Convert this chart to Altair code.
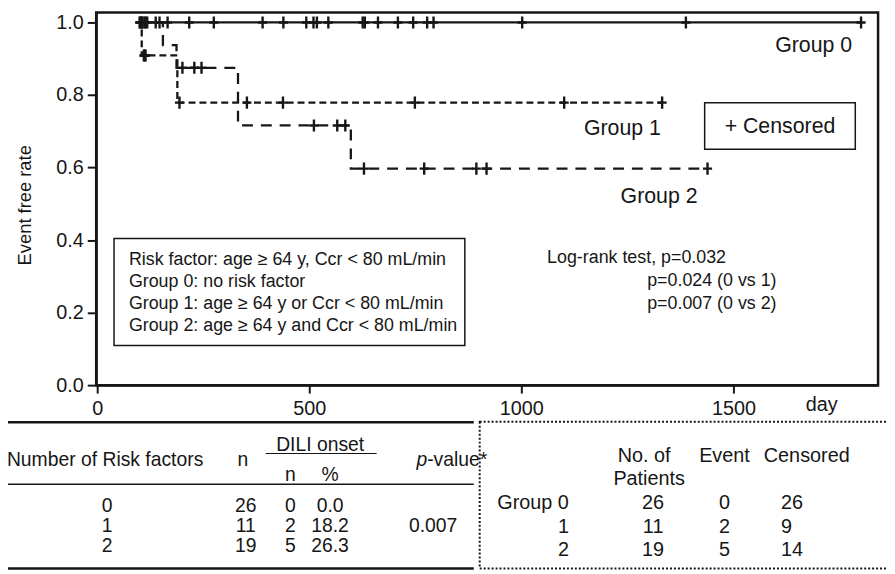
import altair as alt
import pandas as pd

# ---------------- data ----------------
groups = ["Group 0", "Group 1", "Group 2"]
start_day = 96
g0_end_day = 1801
g0_censor_days = [100, 103, 106, 112, 118, 138, 147, 166, 217, 275, 390, 439, 493,
                  510, 518, 545, 626, 631, 662, 709, 745, 778, 793, 1002, 1388, 1801]
g1_event_days = [105, 189]
g1_surv = [0.909, 0.779]
g1_end_day = 1332
g1_censor_days = [110, 112, 114, 194, 353, 438, 749, 1101, 1332]
g2_event_days = [155, 187, 332, 598]
g2_surv = [0.9375, 0.875, 0.716, 0.597]
g2_end_day = 1439
g2_censor_days = [102, 107, 114, 201, 229, 246, 511, 566, 585, 629, 771, 894, 918, 1439]

x_ticks = [0, 500, 1000, 1500]
y_ticks = [0.0, 0.2, 0.4, 0.6, 0.8, 1.0]

legend_lines = ["Risk factor: age ≥ 64 y, Ccr < 80 mL/min",
                "Group 0: no risk factor",
                "Group 1: age ≥ 64 y or Ccr < 80 mL/min",
                "Group 2: age ≥ 64 y and Ccr < 80 mL/min"]
logrank_lines = ["Log-rank test, p=0.032", "p=0.024 (0 vs 1)", "p=0.007 (0 vs 2)"]

risk_factors = ["0", "1", "2"]
risk_n = ["26", "11", "19"]
dili_n = ["0", "2", "5"]
dili_pct = ["0.0", "18.2", "26.3"]
trend_p = "0.007"

grp_labels = ["Group 0", "1", "2"]
grp_patients = ["26", "11", "19"]
grp_events = ["0", "2", "5"]
grp_censored = ["26", "9", "14"]

# ---------------- layout / style ----------------
FONT = "Liberation Sans"
INK = "#161616"
PX0, PXD = 98.0, 0.428       # page x of day 0, px per day
PY1, PY0 = 20.0, 386.0       # page y of rate 1.0 and 0.0
LEFT, TOP, RIGHT, BOTTOM = 97, 10, 886, 386


def dx(px):
    return (px - PX0) / PXD


def ry(py):
    return (PY0 - py) / (PY0 - PY1)


xs = alt.Scale(domain=[dx(LEFT), dx(RIGHT)], nice=False, zero=False)
ys = alt.Scale(domain=[ry(BOTTOM), ry(TOP)], nice=False, zero=False)

AX = alt.Axis(values=x_ticks, title="", format="d",
              labelFlush=False, labelOverlap=False, tickSize=8, labelPadding=6, grid=False)
AY = alt.Axis(values=y_ticks, format=".1f", title="Event free rate", grid=False,
              tickSize=9, labelPadding=4, titleX=-72, titleY=194,
              titleAngle=270, titleAlign="center", titleBaseline="middle")


def X(f="x"):
    return alt.X(f"{f}:Q", scale=xs, axis=AX)


def Y(f="y"):
    return alt.Y(f"{f}:Q", scale=ys, axis=AY)


# ---------------- Kaplan-Meier tables ----------------
def km_rows(name, events, surv, end):
    rows = [{"group": name, "x": start_day, "y": 1.0}]
    rows += [{"group": name, "x": d, "y": s} for d, s in zip(events, surv)]
    rows.append({"group": name, "x": end, "y": surv[-1] if surv else 1.0})
    return rows


def surv_at(t, events, surv):
    s = 1.0
    for d, v in zip(events, surv):
        if d <= t:
            s = v
    return s


curve_df = pd.DataFrame(km_rows("Group 0", [], [], g0_end_day)
                        + km_rows("Group 1", g1_event_days, g1_surv, g1_end_day)
                        + km_rows("Group 2", g2_event_days, g2_surv, g2_end_day))

cens = []
for name, days, ev, sv in [("Group 0", g0_censor_days, [], []),
                           ("Group 1", g1_censor_days, g1_event_days, g1_surv),
                           ("Group 2", g2_censor_days, g2_event_days, g2_surv)]:
    for d in days:
        cens.append({"group": name, "x": d, "y": surv_at(d, ev, sv)})
cens_df = pd.DataFrame(cens)

curves = alt.Chart(curve_df).mark_line(interpolate="step-after", strokeWidth=2.3, color=INK).encode(
    x=X(), y=Y(),
    strokeDash=alt.StrokeDash("group:N", scale=alt.Scale(domain=groups, range=[[1, 0], [7, 4], [11, 8]]),
                              legend=None),
)

censor_marks = alt.Chart(cens_df).mark_point(
    shape="M0,-1L0,1M-0.75,0L0.75,0", size=150, filled=False, strokeWidth=2.4, color=INK, opacity=1
).encode(x=X(), y=Y())


def text_layer(items, size, align="center", style="normal"):
    df = pd.DataFrame({"x": [dx(p[0]) for p in items],
                       "y": [ry(p[1]) for p in items],
                       "t": [p[2] for p in items]})
    return alt.Chart(df).mark_text(font=FONT, fontSize=size, align=align, baseline="middle",
                                   fontStyle=style, color=INK).encode(x=X(), y=Y(), text="t:N")


layers = [curves, censor_marks]

# annotation boxes
box_df = pd.DataFrame({"x": [dx(711), dx(115)], "x2": [dx(863), dx(469)],
                       "y": [ry(101), ry(238)], "y2": [ry(148), ry(346)]})
layers.append(alt.Chart(box_df).mark_rect(fillOpacity=0, stroke=INK, strokeWidth=1.5).encode(
    x=X(), x2="x2:Q", y=Y(), y2="y2:Q"))

# plot annotations
layers.append(text_layer([(821, 44, "Group 0"), (628, 128, "Group 1"), (665, 196, "Group 2"),
                          (787, 126, "+ Censored")], 21.5))
layers.append(text_layer([(130, y, t) for y, t in zip([260, 282, 304, 326], legend_lines)], 18, "left"))
layers.append(text_layer([(552, 258, logrank_lines[0]), (653, 281, logrank_lines[1]),
                          (653, 304, logrank_lines[2])], 18, "left"))
layers.append(text_layer([(829, 406, "day")], 20))

# left table
rule_df = pd.DataFrame({"x": [dx(0), dx(268), dx(0), dx(0)], "x2": [dx(478), dx(380), dx(478), dx(478)],
                        "y": [ry(423.5), ry(455), ry(486), ry(571)], "w": [2.5, 1.2, 1.3, 2.5]})
layers.append(alt.Chart(rule_df).mark_rule(color=INK).encode(
    x=X(), x2="x2:Q", y=Y(), strokeWidth=alt.StrokeWidth("w:Q", scale=None)))

row_y = [508, 528, 548]
left_items = [(106, 462, "Number of Risk factors"), (245, 462, "n"), (323, 446, "DILI onset"),
              (293, 477, "n"), (333, 477, "%"), (437, 528, trend_p)]
for i in range(3):
    left_items += [(108, row_y[i], risk_factors[i]), (248, row_y[i], risk_n[i]),
                   (293, row_y[i], dili_n[i]), (333, row_y[i], dili_pct[i])]
layers.append(text_layer(left_items, 19.5))
layers.append(text_layer([(431, 462, "p")], 19.5, "right", "italic"))
layers.append(text_layer([(431, 462, "-value*")], 19.5, "left"))

# right table (dotted box)
dot_df = pd.DataFrame({"x": [dx(484)], "x2": [dx(905)], "y": [ry(423)], "y2": [ry(571)]})
layers.append(alt.Chart(dot_df).mark_rect(fillOpacity=0, stroke=INK, strokeWidth=2,
                                          strokeDash=[2, 2]).encode(x=X(), x2="x2:Q", y=Y(), y2="y2:Q"))
grp_y = [505, 529, 552]
right_items = [(650, 458, "No. of"), (655, 481, "Patients"), (731, 458, "Event"), (814, 458, "Censored")]
for i in range(3):
    right_items += [(659, grp_y[i], grp_patients[i]), (731, grp_y[i], grp_events[i])]
layers.append(text_layer(right_items, 20))
layers.append(text_layer([(574, grp_y[i], grp_labels[i]) for i in range(3)], 20, "right"))
layers.append(text_layer([(788, grp_y[i], grp_censored[i]) for i in range(3)], 20, "left"))

chart = alt.layer(*layers).properties(
    width=RIGHT - LEFT, height=BOTTOM - TOP,
    autosize=alt.AutoSizeParams(type="none"),
    padding={"left": LEFT - 8, "top": TOP - 8, "right": 887 - (RIGHT - 8), "bottom": 566 - (BOTTOM - 8)},
).configure_view(stroke=INK, strokeWidth=2.5).configure_axis(
    domainColor=INK, domainWidth=2.2, tickColor=INK, tickWidth=2, labelFont=FONT, labelFontSize=20,
    labelColor=INK, titleFont=FONT, titleFontSize=18.5, titleFontWeight="normal", titleColor=INK,
)

chart.save("out.html", embed_options={"renderer": "svg", "actions": False})
